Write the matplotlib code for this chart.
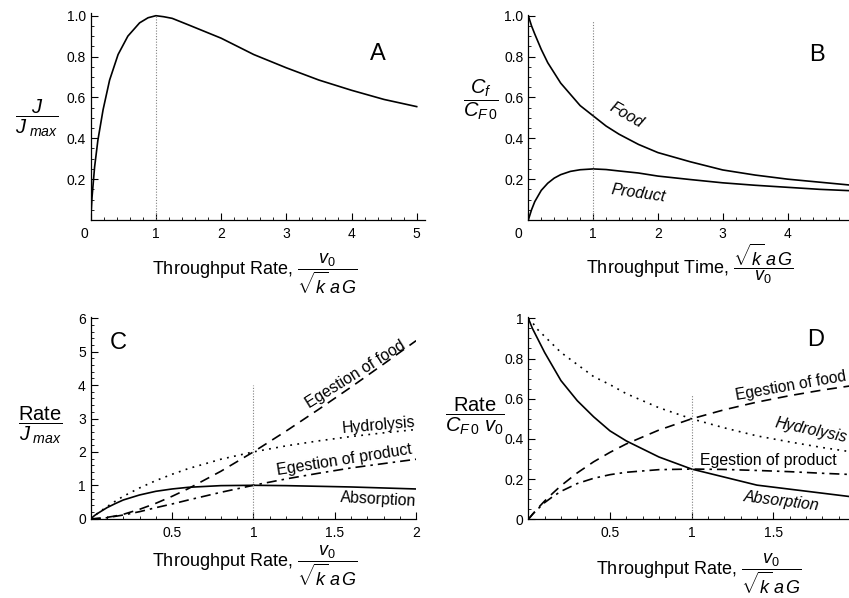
import matplotlib
matplotlib.use('Agg')
import matplotlib.pyplot as plt
import matplotlib.transforms as mtransforms
from matplotlib.ticker import MultipleLocator, FixedLocator, FixedFormatter

plt.rcParams['font.family'] = ['Liberation Sans', 'DejaVu Sans']
plt.rcParams['mathtext.fontset'] = 'custom'
plt.rcParams['mathtext.rm'] = 'Liberation Sans'
plt.rcParams['mathtext.it'] = 'Liberation Sans:italic'
plt.rcParams['mathtext.bf'] = 'Liberation Sans:bold'

# ---- panel A: flux vs throughput rate
rate_a = [0, 0.02, 0.06, 0.11, 0.19, 0.29, 0.42, 0.57, 0.75, 0.88, 1.0, 1.12, 1.25, 1.5,
          2.0, 2.5, 3.0, 3.5, 4.0, 4.5, 5.0]
flux_a = [0, 0.11, 0.26, 0.39, 0.54, 0.685, 0.81, 0.90, 0.965, 0.99, 1.0, 0.995, 0.987, 0.955,
          0.89, 0.81, 0.745, 0.685, 0.635, 0.59, 0.555]

# ---- panel B: concentrations vs throughput time
time_b = [0, 0.05, 0.1, 0.2, 0.3, 0.4, 0.5, 0.65, 0.8, 1.0, 1.2, 1.4, 1.7, 2.0, 2.5,
          3.0, 3.5, 4.0, 4.5, 5.0]
food_b = [1.0, 0.95, 0.91, 0.835, 0.77, 0.72, 0.67, 0.615, 0.56, 0.51, 0.46, 0.42, 0.37,
          0.33, 0.285, 0.245, 0.22, 0.2, 0.185, 0.17]
product_b = [0, 0.05, 0.09, 0.145, 0.18, 0.205, 0.222, 0.238, 0.246, 0.25, 0.247, 0.24,
             0.23, 0.215, 0.198, 0.182, 0.17, 0.16, 0.15, 0.143]

# ---- panels C and D: rates vs throughput rate
rate_cd = [0, 0.025, 0.05, 0.1, 0.15, 0.2, 0.3, 0.4, 0.5, 0.6, 0.8, 1.0, 1.2, 1.4, 1.6, 1.8, 2.0]

absorption_c = [0, 0.1, 0.18, 0.33, 0.45, 0.56, 0.71, 0.82, 0.89, 0.94, 0.99, 1.0, 0.99,
                0.97, 0.95, 0.92, 0.89]
hydrolysis_c = [0, 0.1, 0.19, 0.36, 0.52, 0.67, 0.92, 1.14, 1.33, 1.5, 1.78, 2.0, 2.18,
                2.33, 2.46, 2.57, 2.67]
egest_food_c = [0, 0.0, 0.01, 0.04, 0.08, 0.13, 0.28, 0.46, 0.67, 0.9, 1.42, 2.0, 2.62,
                3.27, 3.94, 4.63, 5.33]
egest_prod_c = [0, 0.0, 0.01, 0.03, 0.07, 0.11, 0.21, 0.33, 0.44, 0.56, 0.79, 1.0, 1.19,
                1.36, 1.52, 1.65, 1.78]

absorption_d = [1.0, 0.95, 0.91, 0.83, 0.76, 0.69, 0.59, 0.51, 0.44, 0.39, 0.31, 0.25,
                0.21, 0.17, 0.15, 0.13, 0.11]
hydrolysis_d = [1.0, 0.98, 0.95, 0.91, 0.87, 0.83, 0.77, 0.71, 0.67, 0.625, 0.555, 0.5,
                0.455, 0.415, 0.385, 0.357, 0.333]
egest_food_d = [0, 0.024, 0.048, 0.091, 0.13, 0.167, 0.231, 0.286, 0.333, 0.375, 0.444,
                0.5, 0.545, 0.583, 0.615, 0.643, 0.667]
egest_prod_d = [0, 0.024, 0.045, 0.083, 0.113, 0.139, 0.178, 0.204, 0.222, 0.234, 0.247,
                0.25, 0.248, 0.243, 0.237, 0.229, 0.222]

DASH = (0, (6, 4))
DOT = (0, (1.1, 3.2))
DASHDOT = (0, (6, 3, 1.5, 3))
LW = 1.2

W, H = 849, 598
fig = plt.figure(figsize=(W / 100, H / 100), dpi=100)


def make_axes(left_px, x0_px_per_unit, xmax, bottom_px, y_px_per_unit, ymax):
    ax = fig.add_axes([left_px / W, (H - bottom_px) / H,
                       xmax * x0_px_per_unit / W, ymax * y_px_per_unit / H])
    ax.set_xlim(0, xmax)
    ax.set_ylim(0, ymax)
    for s in ['top', 'right']:
        ax.spines[s].set_visible(False)
    for s in ['left', 'bottom']:
        ax.spines[s].set_linewidth(0.9)
    ax.tick_params(which='major', direction='in', length=5, width=0.8, labelsize=10)
    ax.tick_params(axis='x', which='major', pad=5)
    ax.tick_params(axis='y', which='major', pad=3.5)
    ax.tick_params(which='minor', direction='in', length=2.5, width=0.6)
    ax.patch.set_alpha(0)
    return ax


def shift_zero_label(ax, pts):
    # origin label sits a little to the left, as in the original plot
    off = mtransforms.ScaledTranslation(-pts / 72, 0, fig.dpi_scale_trans)
    lab = ax.xaxis.get_major_ticks()[0].label1
    lab.set_transform(lab.get_transform() + off)


xlab_rate = r'Throughput Rate, $\dfrac{v_0}{\sqrt{k}\,a\,G}$'
xlab_time = r'Throughput Time, $\dfrac{\sqrt{k}\,a\,G}{v_0}$'

# ---------------- A
axA = make_axes(90.7, 65.2, 5.12, 220, 204.3, 1.015)
axA.plot(rate_a, flux_a, color='black', lw=LW)
axA.axvline(1, ymax=1 / 1.015, color='gray', lw=0.8, ls=(0, (1, 1.5)))
axA.xaxis.set_major_locator(FixedLocator([0, 1, 2, 3, 4, 5]))
axA.xaxis.set_major_formatter(FixedFormatter(['0', '1', '2', '3', '4', '5']))
axA.xaxis.set_minor_locator(MultipleLocator(0.2))
axA.yaxis.set_major_locator(FixedLocator([0.2, 0.4, 0.6, 0.8, 1.0]))
axA.yaxis.set_major_formatter(FixedFormatter(['0.2', '0.4', '0.6', '0.8', '1.0']))
axA.yaxis.set_minor_locator(MultipleLocator(0.05))
shift_zero_label(axA, 4.5)
axA.text(0.86, 0.80, 'A', transform=axA.transAxes, fontsize=17, ha='center', va='center')
fig.text(255 / W, 1 - 274 / H, xlab_rate, fontsize=13, ha='center', va='center')
fig.text(37 / W, 1 - 118 / H, r'$\dfrac{J}{J_{\ max}}$', fontsize=14.5, ha='center', va='center')

# ---------------- B
axB = make_axes(528.3, 64.8, 5.0, 220, 204.3, 1.005)
axB.plot(time_b, food_b, color='black', lw=LW)
axB.plot(time_b, product_b, color='black', lw=LW)
axB.axvline(1, ymax=0.98 / 1.005, color='gray', lw=0.8, ls=(0, (1, 1.5)))
axB.xaxis.set_major_locator(FixedLocator([0, 1, 2, 3, 4]))
axB.xaxis.set_major_formatter(FixedFormatter(['0', '1', '2', '3', '4']))
axB.xaxis.set_minor_locator(MultipleLocator(0.2))
axB.yaxis.set_major_locator(FixedLocator([0.2, 0.4, 0.6, 0.8, 1.0]))
axB.yaxis.set_major_formatter(FixedFormatter(['0.2', '0.4', '0.6', '0.8', '1.0']))
axB.yaxis.set_minor_locator(MultipleLocator(0.05))
shift_zero_label(axB, 7)
axB.text(4.45, 0.81, 'B', fontsize=17, ha='center', va='center')
axB.text(1.52, 0.515, 'Food', fontsize=11.4, style='italic', rotation=-30, ha='center', va='center')
axB.text(1.7, 0.13, 'Product', fontsize=11.4, style='italic', rotation=-8, ha='center', va='center')
fig.text(690 / W, 1 - 264 / H, xlab_time, fontsize=13, ha='center', va='center')
fig.text(481 / W, 1 - 100 / H, r'$\dfrac{C_f}{C_{F\,0}}$', fontsize=14.5, ha='center', va='center')

# ---------------- C
axC = make_axes(90.7, 162.7, 2.0, 518.7, 33.4, 6.05)
axC.plot(rate_cd, egest_food_c, color='black', lw=LW, ls=DASH)
axC.plot(rate_cd, hydrolysis_c, color='black', lw=LW, ls=DOT)
axC.plot(rate_cd, egest_prod_c, color='black', lw=LW, ls=DASHDOT)
axC.plot(rate_cd, absorption_c, color='black', lw=LW)
axC.axvline(1, ymax=4.0 / 6.05, color='gray', lw=0.8, ls=(0, (1, 1.5)))
axC.xaxis.set_major_locator(FixedLocator([0.5, 1, 1.5, 2]))
axC.xaxis.set_major_formatter(FixedFormatter(['0.5', '1', '1.5', '2']))
axC.xaxis.set_minor_locator(MultipleLocator(0.1))
axC.yaxis.set_major_locator(FixedLocator([0, 1, 2, 3, 4, 5, 6]))
axC.yaxis.set_major_formatter(FixedFormatter(['0', '1', '2', '3', '4', '5', '6']))
axC.yaxis.set_minor_locator(MultipleLocator(0.2))
axC.text(0.17, 5.25, 'C', fontsize=17, ha='center', va='center')
axC.text(1.63, 4.32, 'Egestion of food', fontsize=11.4, rotation=32, ha='center', va='center')
axC.text(1.77, 2.81, 'Hydrolysis', fontsize=11.4, rotation=5, ha='center', va='center')
axC.text(1.56, 1.76, 'Egestion of product', fontsize=11.4, rotation=9, ha='center', va='center')
axC.text(1.77, 0.56, 'Absorption', fontsize=11.4, rotation=-3, ha='center', va='center')
fig.text(255 / W, 1 - 566 / H, xlab_rate, fontsize=13, ha='center', va='center')
fig.text(40 / W, 1 - 425 / H, r'$\dfrac{\mathrm{Rate}}{J_{\ max}}$', fontsize=14.5,
         ha='center', va='center')

# ---------------- D
axD = make_axes(528.3, 163.3, 2.0, 519.3, 201, 1.008)
axD.plot(rate_cd, egest_food_d, color='black', lw=LW, ls=DASH)
axD.plot(rate_cd, hydrolysis_d, color='black', lw=LW, ls=DOT)
axD.plot(rate_cd, egest_prod_d, color='black', lw=LW, ls=DASHDOT)
axD.plot(rate_cd, absorption_d, color='black', lw=LW)
axD.axvline(1, ymax=0.62 / 1.008, color='gray', lw=0.8, ls=(0, (1, 1.5)))
axD.xaxis.set_major_locator(FixedLocator([0.5, 1, 1.5]))
axD.xaxis.set_major_formatter(FixedFormatter(['0.5', '1', '1.5']))
axD.xaxis.set_minor_locator(MultipleLocator(0.1))
axD.yaxis.set_major_locator(FixedLocator([0, 0.2, 0.4, 0.6, 0.8, 1.0]))
axD.yaxis.set_major_formatter(FixedFormatter(['0', '0.2', '0.4', '0.6', '0.8', '1']))
axD.yaxis.set_minor_locator(MultipleLocator(0.05))
axD.text(1.76, 0.89, 'D', fontsize=17, ha='center', va='center')
axD.text(1.61, 0.662, 'Egestion of food', fontsize=11.2, rotation=10, ha='center', va='center')
axD.text(1.73, 0.445, 'Hydrolysis', fontsize=11.4, style='italic', rotation=-12,
         ha='center', va='center')
axD.text(1.47, 0.295, 'Egestion of product', fontsize=11.4, ha='center', va='center')
axD.text(1.55, 0.09, 'Absorption', fontsize=11.4, style='italic', rotation=-7,
         ha='center', va='center')
fig.text(699 / W, 1 - 574 / H, xlab_rate, fontsize=13, ha='center', va='center')
fig.text(475 / W, 1 - 416 / H, r'$\dfrac{\mathrm{Rate}}{C_{F\,0}\ v_0}$', fontsize=14.5,
         ha='center', va='center')

fig.savefig('out.png', dpi=100)
